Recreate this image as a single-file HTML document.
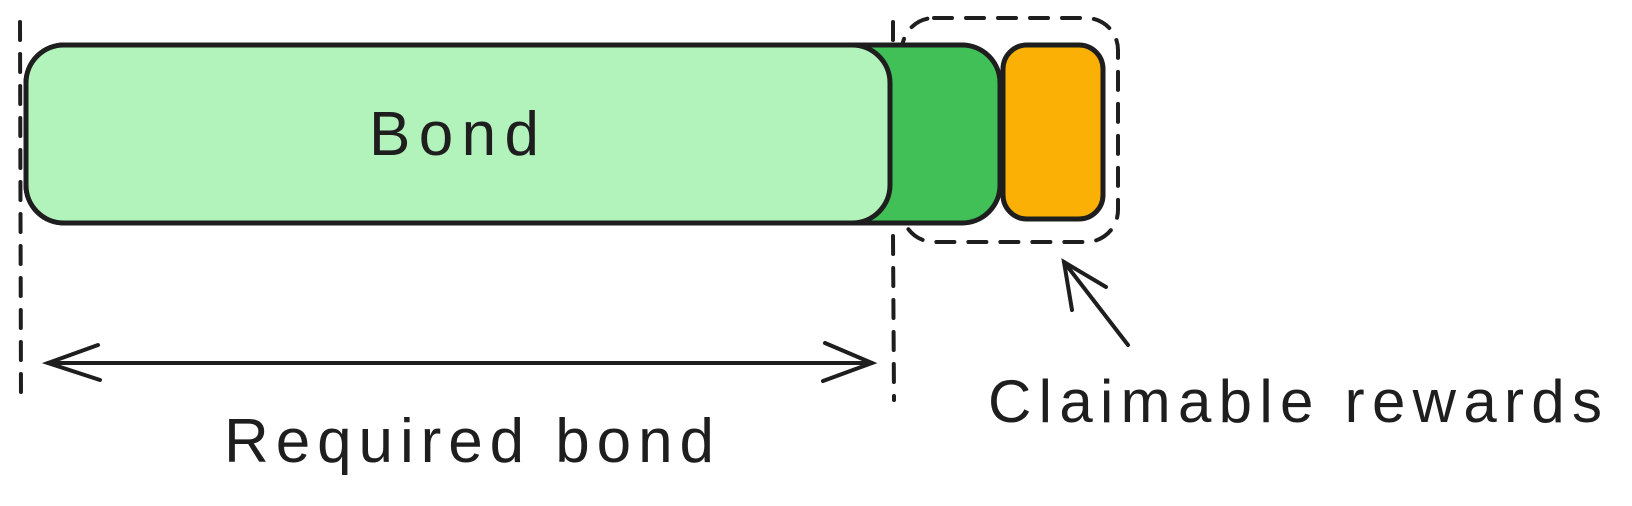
<!DOCTYPE html>
<html><head><meta charset="utf-8"><style>html,body{margin:0;padding:0;background:#fff}svg{display:block}</style></head>
<body>
<svg width="1632" height="506" viewBox="0 0 1632 506" xmlns="http://www.w3.org/2000/svg">
<g fill="none" stroke="#1e1e1e" stroke-width="4" stroke-linecap="round" stroke-dasharray="18 14">
<line x1="20" y1="22" x2="21" y2="400"/>
<line x1="893" y1="22" x2="893" y2="60"/>
<line x1="893" y1="236" x2="894" y2="400"/>
<rect x="902" y="18" width="216" height="224" rx="32"/>
</g>
<rect x="26" y="45" width="974" height="178" rx="38" fill="#40c057" stroke="#1e1e1e" stroke-width="5"/>
<rect x="26" y="45" width="864" height="178" rx="38" fill="#b2f2bb" stroke="#1e1e1e" stroke-width="5"/>
<rect x="1003" y="45" width="100" height="174" rx="24" fill="#fab005" stroke="#1e1e1e" stroke-width="5"/>
<g fill="none" stroke="#1e1e1e" stroke-width="4" stroke-linecap="round">
<line x1="48" y1="363" x2="872" y2="363"/>
<path d="M98 345 L48 363 L100 380"/>
<path d="M825 343 L872 363 L823 381"/>
<line x1="1128" y1="345" x2="1064" y2="262"/>
<path d="M1072 310 L1064 262 L1106 287"/>
</g>
<g font-family="Liberation Sans, sans-serif" fill="#1e1e1e">
<text x="369" y="155" font-size="62" textLength="170" lengthAdjust="spacing">Bond</text>
<text x="224" y="462" font-size="62" textLength="490" lengthAdjust="spacing">Required bond</text>
<text x="988" y="422" font-size="60" textLength="614" lengthAdjust="spacing">Claimable rewards</text>
</g>
</svg>
</body></html>
